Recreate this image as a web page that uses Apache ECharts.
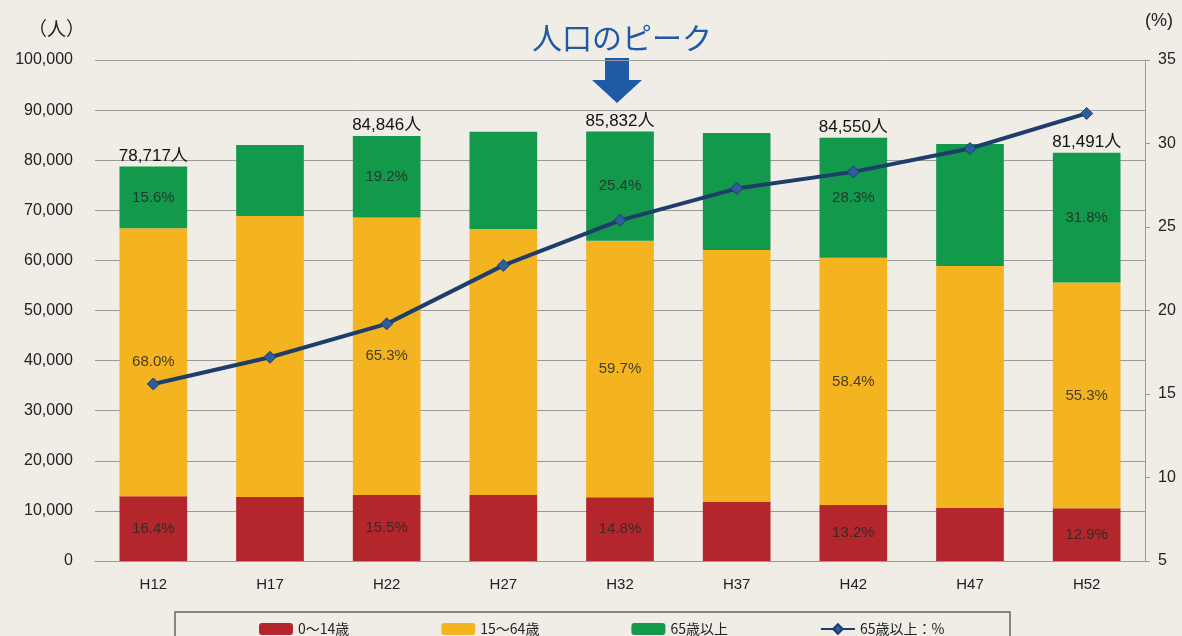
<!DOCTYPE html>
<html>
<head>
<meta charset="utf-8">
<script src="https://cdn.jsdelivr.net/npm/echarts@6/dist/echarts.min.js"></script>
<style>
  html, body { margin: 0; padding: 0; background: #efede6; }
  #chart { width: 1182px; height: 636px; }
</style>
</head>
<body>
<div id="chart"></div>
<script>
var categories = ['H12', 'H17', 'H22', 'H27', 'H32', 'H37', 'H42', 'H47', 'H52'];
var young = [12910, 12770, 13150, 13170, 12700, 11780, 11160, 10580, 10510];
var working = [53530, 56090, 55400, 53100, 51240, 50300, 49380, 48300, 45070];
var elderly = [12280, 14170, 16290, 19400, 21800, 23350, 23930, 24350, 25910];
var elderlyRate = [15.6, 17.2, 19.2, 22.7, 25.4, 27.3, 28.3, 29.7, 31.8];
var youngPct = ['16.4', null, '15.5', null, '14.8', null, '13.2', null, '12.9'];
var workingPct = ['68.0', null, '65.3', null, '59.7', null, '58.4', null, '55.3'];
var elderlyPct = ['15.6', null, '19.2', null, '25.4', null, '28.3', null, '31.8'];
var totalLabels = ['78,717人', '', '84,846人', '', '85,832人', '', '84,550人', '', '81,491人'];
var leftTicks = [0, 10000, 20000, 30000, 40000, 50000, 60000, 70000, 80000, 90000, 100000];
var rightTicks = [5, 10, 15, 20, 25, 30, 35];

var jp = '"Liberation Sans", "Noto Sans CJK JP", sans-serif';

function pctLabel(arr) {
    return {
        show: true,
        position: 'inside',
        color: 'rgba(40,40,40,0.85)',
        fontSize: 15,
        fontFamily: '"Liberation Sans Narrow", "Liberation Sans", sans-serif',
        formatter: function (p) {
            return arr[p.dataIndex] ? arr[p.dataIndex] + '%' : '';
        }
    };
}

var chart = echarts.init(document.getElementById('chart'));
chart.setOption({
    backgroundColor: '#efede6',
    animation: false,
    textStyle: { fontFamily: jp },
    title: {
        text: '人口のピーク',
        left: 617,
        top: 18,
        textAlign: 'center',
        textStyle: { color: '#1f5aa6', fontSize: 30, fontWeight: 'normal', fontFamily: '"Noto Sans CJK JP", sans-serif' }
    },
    graphic: [
        {
            type: 'polygon',
            shape: { points: [[605, 58], [629, 58], [629, 80], [642, 80], [617, 103], [592, 80], [605, 80]] },
            style: { fill: '#1f5aa6' }
        },
        {
            type: 'rect',
            shape: { x: 175, y: 612, width: 835, height: 40 },
            style: { fill: '#efede6', stroke: '#666', lineWidth: 1.5 }
        }
    ],
    legend: {
        data: ['0〜14歳', '15〜64歳', '65歳以上', '65歳以上：%'],
        left: 254,
        top: 617,
        itemGap: 92,
        itemWidth: 34,
        itemHeight: 12,
        textStyle: { fontSize: 14, color: '#222', fontFamily: '"Noto Sans CJK JP", sans-serif' }
    },
    grid: { left: 95, right: 37, top: 60, bottom: 75 },
    xAxis: {
        type: 'category',
        data: categories,
        axisLine: { lineStyle: { color: '#999' } },
        axisTick: { show: false },
        axisLabel: { color: '#222', fontSize: 15, margin: 16 }
    },
    yAxis: [
        {
            type: 'value',
            min: 0,
            max: 100000,
            interval: 10000,
            name: '（人）',
            nameGap: 22,
            nameTextStyle: { color: '#222', fontSize: 19, align: 'right', padding: [0, 10, 0, 0], fontFamily: '"Noto Sans CJK JP", sans-serif' },
            axisLine: { show: false },
            axisTick: { show: false },
            splitLine: { lineStyle: { color: '#9a9a9a', width: 1 } },
            axisLabel: {
                color: '#222', fontSize: 16, margin: 22,
                formatter: function (v) { return leftTicks.indexOf(v) >= 0 ? v.toLocaleString('en-US') : ''; }
            }
        },
        {
            type: 'value',
            min: 5,
            max: 35,
            interval: 5,
            name: '(%)',
            nameGap: 30,
            nameTextStyle: { color: '#222', fontSize: 18, align: 'left', padding: [0, 0, 0, 0] },
            axisLine: { show: true, lineStyle: { color: '#999' } },
            axisTick: { show: true, length: 5, lineStyle: { color: '#999' } },
            splitLine: { show: false },
            axisLabel: {
                color: '#222', fontSize: 16, margin: 13,
                formatter: function (v) { return rightTicks.indexOf(v) >= 0 ? String(v) : ''; }
            }
        }
    ],
    series: [
        {
            name: '0〜14歳',
            type: 'bar',
            stack: 'pop',
            barWidth: '58%',
            data: young,
            itemStyle: { color: '#b3262b' },
            label: pctLabel(youngPct)
        },
        {
            name: '15〜64歳',
            type: 'bar',
            stack: 'pop',
            data: working,
            itemStyle: { color: '#f4b41f' },
            label: pctLabel(workingPct)
        },
        {
            name: '65歳以上',
            type: 'bar',
            stack: 'pop',
            data: elderly,
            itemStyle: { color: '#12994b' },
            label: pctLabel(elderlyPct)
        },
        {
            name: 'total',
            type: 'bar',
            stack: 'pop',
            data: categories.map(function () { return 0; }),
            itemStyle: { color: 'transparent' },
            label: {
                show: true,
                position: 'top',
                distance: 2,
                color: '#111',
                fontSize: 17,
                fontFamily: jp,
                formatter: function (p) { return totalLabels[p.dataIndex]; }
            }
        },
        {
            name: '65歳以上：%',
            type: 'line',
            yAxisIndex: 1,
            data: elderlyRate,
            symbol: 'diamond',
            symbolSize: 12,
            lineStyle: { color: '#1e3d6b', width: 4 },
            itemStyle: { color: '#2c5e9e', borderColor: '#1e3d6b', borderWidth: 1 },
            z: 5
        }
    ]
});
</script>
</body>
</html>
